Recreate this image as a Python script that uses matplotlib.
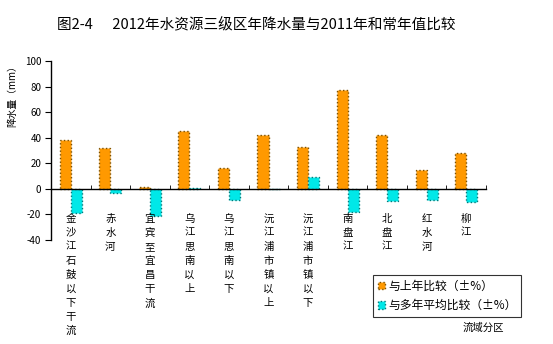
import numpy as np
import matplotlib
matplotlib.use('Agg')
from matplotlib import pyplot as plt

plt.rcParams['font.family'] = ['Noto Sans CJK SC', 'DejaVu Sans']
plt.rcParams['axes.unicode_minus'] = False

# 数据
regions = ['金沙江石鼓以下干流', '赤水河', '宜宾至宜昌干流', '乌江思南以上', '乌江思南以下',
           '沅江浦市镇以上', '沅江浦市镇以下', '南盘江', '北盘江', '红水河', '柳江']
vs_last_year = [38.5, 32, 1.5, 45, 16, 42, 32.5, 77, 42.5, 15, 28]
vs_average = [-18.5, -3, -21.5, 1, -9, 0, 9, -18, -9.5, -9, -10.5]

fig = plt.figure(figsize=(5.53, 3.44), dpi=100)
ax = fig.add_axes([51 / 553, 1 - 240 / 344, 435 / 553, 179 / 344])

x = np.arange(len(regions))
w = 0.28
b1 = ax.bar(x - w / 2, vs_last_year, w, color='#FF9900', edgecolor='#7a5000',
            linewidth=1, linestyle=':', label='与上年比较（±%）')
b2 = ax.bar(x + w / 2, vs_average, w, color='#00E8E8', edgecolor='#007a7a',
            linewidth=1, linestyle=':', label='与多年平均比较（±%）')

# 坐标轴
ax.set_xlim(-0.5, len(regions) - 0.5)
ax.set_ylim(-40, 100)
ax.set_yticks(range(-40, 101, 20))
ax.tick_params(axis='y', direction='out', length=4, labelsize=7, pad=3)
ax.spines['top'].set_visible(False)
ax.spines['right'].set_visible(False)
ax.spines['bottom'].set_position(('data', 0))
ax.spines['left'].set_linewidth(1)
ax.spines['bottom'].set_linewidth(1)

ax.set_xticks(x, ['\n'.join(r) for r in regions])
ax.set_xticks(np.arange(-0.5, len(regions), 1), minor=True)
ax.tick_params(axis='x', which='major', length=0, labelsize=7.5, pad=18)
ax.tick_params(axis='x', which='minor', direction='in', length=3)
for lab in ax.get_xticklabels():
    lab.set_linespacing(1.5)
    lab.set_verticalalignment('top')

# 标题与标签
fig.text(256 / 553, 1 - 25 / 344, '图2-4      2012年水资源三级区年降水量与2011年和常年值比较',
         ha='center', va='center', fontsize=10.5)
fig.text(12 / 553, 1 - 60 / 344, '降水量（mm）', rotation=90, ha='center', va='top',
         fontsize=7)
fig.text(483 / 553, 1 - 328 / 344, '流域分区', ha='center', va='center', fontsize=7.5)

leg = fig.legend(handles=[b1, b2], loc='upper left',
                 bbox_to_anchor=(373 / 553, 1 - 275 / 344), fontsize=8.5,
                 frameon=True, fancybox=False, edgecolor='black',
                 handlelength=0.6, handleheight=0.6, handletextpad=0.3,
                 borderpad=0.4, labelspacing=0.55, borderaxespad=0)
leg.get_frame().set_linewidth(0.8)

fig.savefig('out.png', dpi=100)
